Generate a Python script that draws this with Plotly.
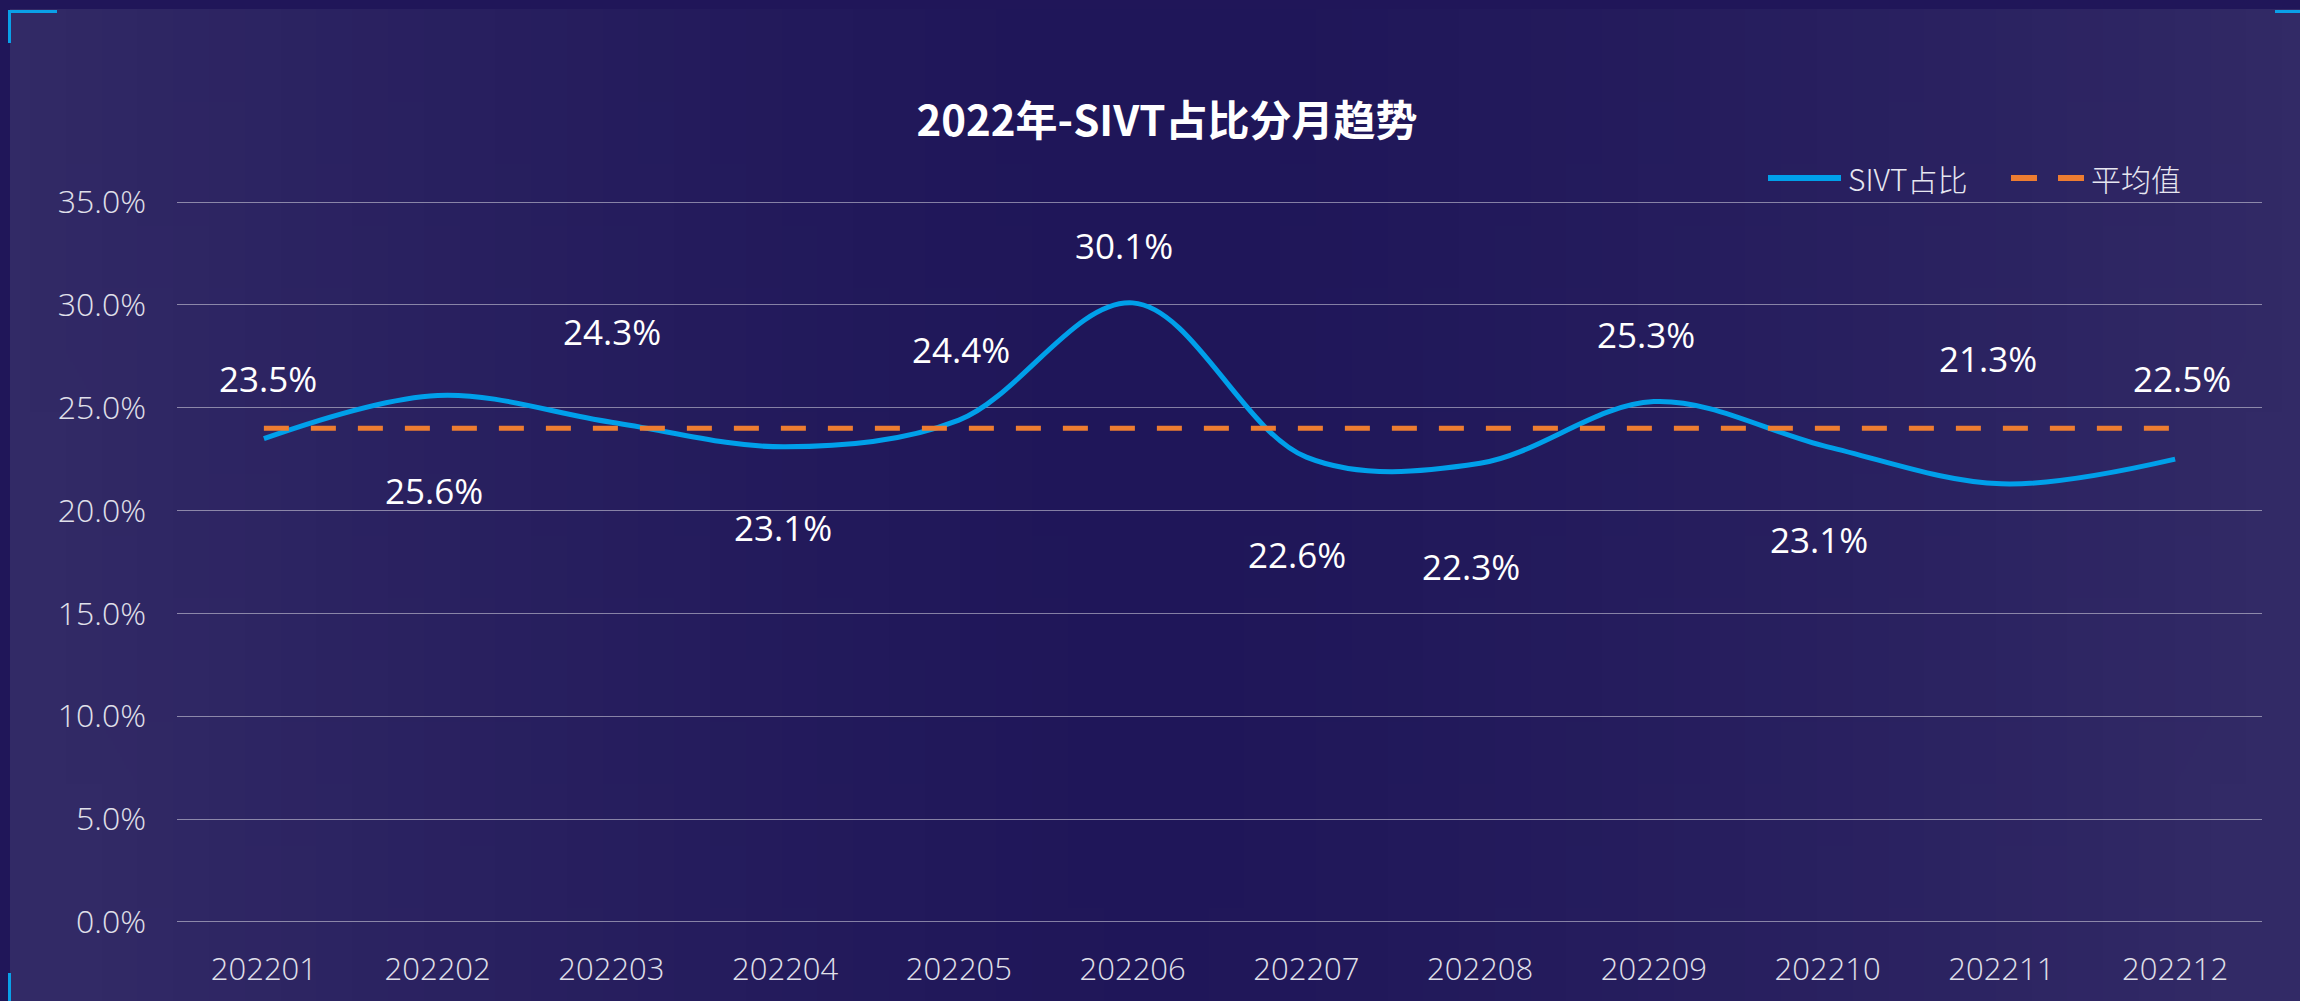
import base64
import struct
import zlib

import plotly.graph_objects as go

# data
months = ['202201', '202202', '202203', '202204', '202205', '202206',
          '202207', '202208', '202209', '202210', '202211', '202212']
sivt_pct = [23.5, 25.6, 24.3, 23.1, 24.4, 30.1, 22.6, 22.3, 25.3, 23.1, 21.3, 22.5]
y_ticks = [0, 5, 10, 15, 20, 25, 30, 35]
avg_pct = round(sum(sivt_pct) / len(sivt_pct), 1)
series_names = ['SIVT占比', '平均值']

# label offsets (px) as placed in the original chart
label_dx = [4, -4, 1, -2, 2, -9, -9, -9, -8, -9, -13, 7]
label_dy = [60, -95, 91, -81, 71, 57, -97, -103, 67, -93, 125, 81]

W, H = 2300, 1001
L, R, T, B = 177, 38, 198, 75
PW, PH = W - L - R, H - T - B

BLUE = '#00a0ea'
ORANGE = '#ed7d31'


def px(x):
    return (x - L) / PW


def py(y):
    return (H - B - y) / PH


def gradient_png(w, h):
    center = (31, 22, 89)
    edge = (50, 42, 102)
    raw = b''
    for j in range(h):
        raw += b'\x00'
        for i in range(w):
            u = abs((i / (w - 1)) - 0.5) * 2 + 0.08 * (j / (h - 1))
            f = min(1.0, max(0.0, u)) ** 1.4
            raw += bytes(int(c + (e - c) * f) for c, e in zip(center, edge))

    def chunk(tag, data):
        return struct.pack('>I', len(data)) + tag + data + struct.pack('>I', zlib.crc32(tag + data) & 0xffffffff)

    png = b'\x89PNG\r\n\x1a\n'
    png += chunk(b'IHDR', struct.pack('>IIBBBBB', w, h, 8, 2, 0, 0, 0))
    png += chunk(b'IDAT', zlib.compress(raw))
    png += chunk(b'IEND', b'')
    return 'data:image/png;base64,' + base64.b64encode(png).decode()


fig = go.Figure()
fig.add_trace(go.Scatter(x=months, y=sivt_pct, mode='lines', name=series_names[0],
                         line=dict(color=BLUE, width=5, shape='spline', smoothing=1)))
fig.add_trace(go.Scatter(x=months, y=[avg_pct] * len(months), mode='lines', name=series_names[1],
                         line=dict(color=ORANGE, width=5, dash='25px,22px')))

# value labels
for i, v in enumerate(sivt_pct):
    fig.add_annotation(x=i, y=v, xref='x', yref='y', text=f'{v:.1f}%', showarrow=False,
                       xshift=label_dx[i], yshift=label_dy[i], yanchor='middle',
                       font=dict(family='Open Sans, Noto Sans CJK SC', size=35, color='#ffffff', weight=500))

# legend drawn by hand so the line samples can be long like the original
leg_y = 178
shapes = [
    dict(type='line', xref='paper', yref='paper', x0=px(1768), x1=px(1841), y0=py(leg_y), y1=py(leg_y),
         line=dict(color=BLUE, width=6)),
    dict(type='line', xref='paper', yref='paper', x0=px(2011), x1=px(2037), y0=py(leg_y), y1=py(leg_y),
         line=dict(color=ORANGE, width=6)),
    dict(type='line', xref='paper', yref='paper', x0=px(2058), x1=px(2084), y0=py(leg_y), y1=py(leg_y),
         line=dict(color=ORANGE, width=6)),
]
for name, x0 in zip(series_names, [1846, 2089]):
    fig.add_annotation(x=px(x0), y=py(leg_y), xref='paper', yref='paper', text=name, showarrow=False,
                       xanchor='left', yanchor='middle',
                       font=dict(family='Noto Sans CJK SC', size=30, color='#e6e6f0', weight=300))

# corner brackets
corners = [
    (8, 11.5, 57, 11.5), (9.5, 11, 9.5, 43),
    (2275, 11.5, 2300, 11.5),
    (9.5, 973, 9.5, 1001),
]
shapes += [dict(type='line', xref='paper', yref='paper', x0=px(a), y0=py(b), x1=px(c), y1=py(d),
                line=dict(color='#0aa0e8', width=3)) for a, b, c, d in corners]

fig.update_layout(
    width=W, height=H,
    margin=dict(l=L, r=R, t=T, b=B),
    paper_bgcolor='#201659',
    plot_bgcolor='rgba(0,0,0,0)',
    font=dict(family='Open Sans, Noto Sans CJK SC', color='#e6e6f0'),
    title=dict(text='2022年-SIVT占比分月趋势', x=1167 / W, xanchor='center', xref='container',
               y=1 - 121 / H, yanchor='middle',
               font=dict(family='Noto Sans CJK SC', size=42, color='#ffffff', weight='bold')),
    showlegend=False,
    xaxis=dict(type='category', range=[-0.5, len(months) - 0.5], showgrid=False, showline=False,
               zeroline=False, ticks='', ticklabelstandoff=22,
               tickfont=dict(family='Open Sans, Noto Sans CJK SC', size=31, color='#e0e0ea', weight=300)),
    yaxis=dict(range=[-0.2, 35.2], tickvals=y_ticks, ticktext=[f'{t:.1f}%' for t in y_ticks],
               showgrid=True, gridcolor='rgba(255,255,255,0.45)', gridwidth=1, zeroline=False,
               showline=False, ticks='', ticklabelstandoff=30,
               tickfont=dict(family='Open Sans, Noto Sans CJK SC', size=32, color='#e0e0ea', weight=300)),
    images=[dict(source=gradient_png(64, 16), xref='paper', yref='paper',
                 x=px(10), y=py(9), sizex=px(W) - px(10), sizey=py(9) - py(H),
                 xanchor='left', yanchor='top', sizing='stretch', layer='below')],
    shapes=shapes,
)

fig.write_html('out.html', config={'displayModeBar': False},
               post_script="document.body.style.margin='0';")
